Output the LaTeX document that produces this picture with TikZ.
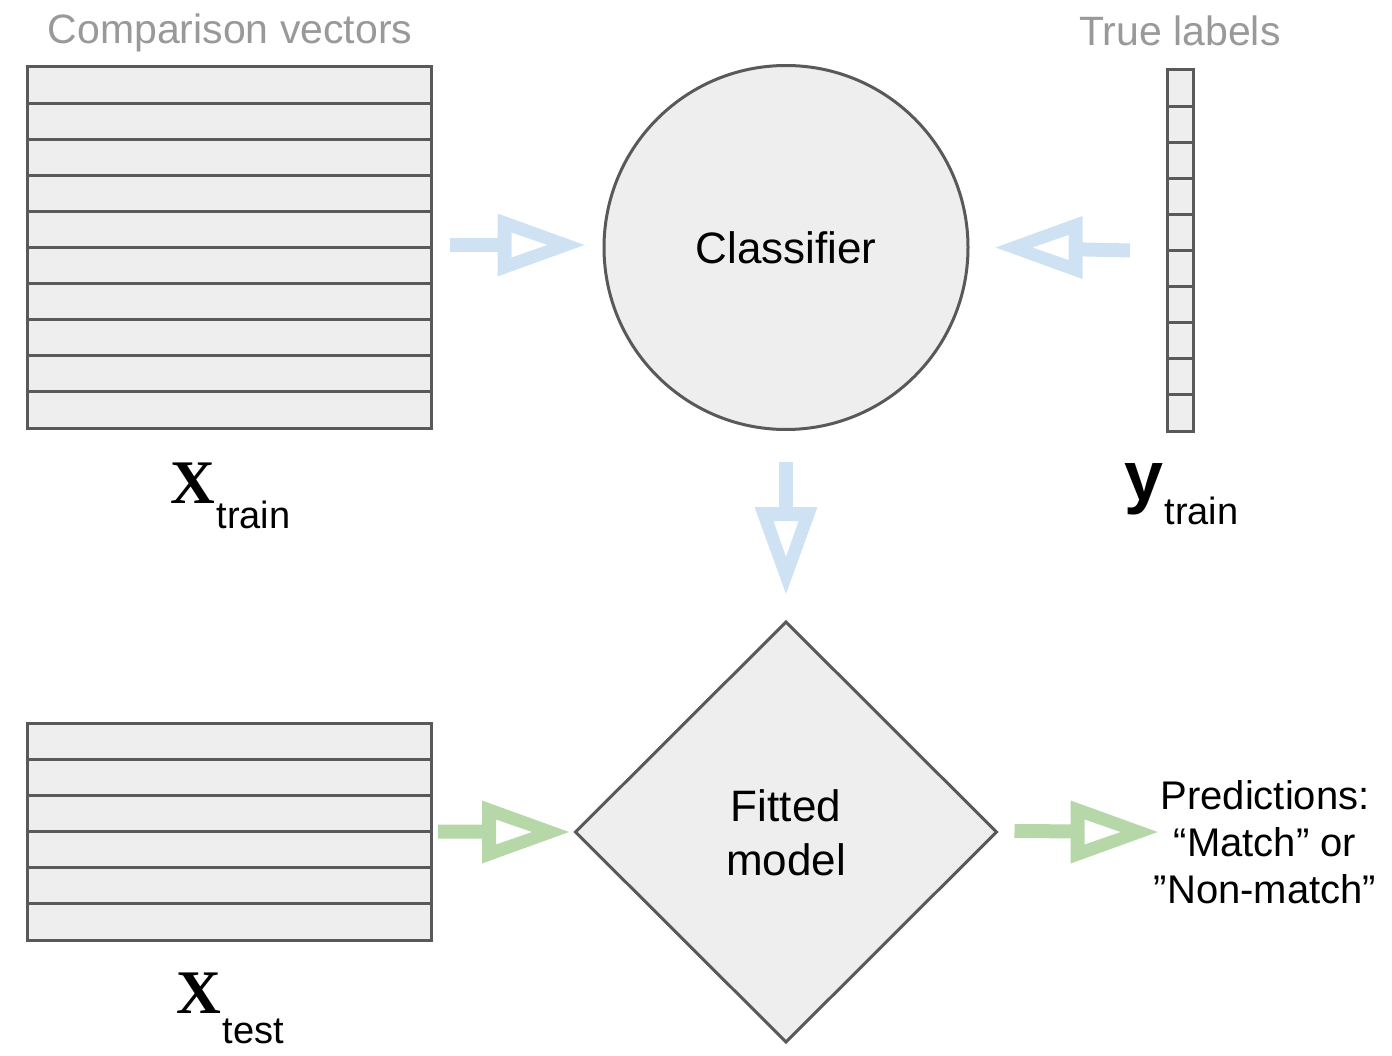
\documentclass[tikz,border=0pt]{standalone}
\usepackage{fontspec}
\setmainfont{Liberation Sans}
\newfontfamily\xserif{Liberation Serif}
\usetikzlibrary{calc,shapes.geometric}
\definecolor{boxfill}{HTML}{EEEEEE}
\definecolor{boxline}{HTML}{595959}
\definecolor{arrblue}{HTML}{CFE2F3}
\definecolor{arrgreen}{HTML}{B6D7A8}
\definecolor{ttlgray}{HTML}{999999}
\newcommand\fatarrow[4]{% colour, start, tip, direction angle
  \draw[#1, line width=14pt, shorten >=86pt] (#2) -- (#3);
  \begin{scope}[shift={(#3)}, rotate=#4]
    \fill[#1, even odd rule] (0pt,0pt) -- (-87pt,31.5pt) -- (-87pt,-31.5pt) -- cycle
      (-37pt,0pt) -- (-73pt,12.5pt) -- (-73pt,-12.5pt) -- cycle;
  \end{scope}}
\begin{document}
\begin{tikzpicture}[x=1pt,y=-1pt,
  tbl/.style={draw=boxline, fill=boxfill, line width=3pt, rectangle, inner sep=0pt, outer sep=0pt},
  rowline/.style={draw=boxline, line width=3pt},
  shapebox/.style={draw=boxline, fill=boxfill, line width=3pt, inner sep=0pt, outer sep=0pt},
  bigtext/.style={font=\fontsize{44}{54}\selectfont, align=center, inner sep=0pt},
  ttl/.style={font=\fontsize{41}{48}\selectfont, text=ttlgray, inner sep=0pt, anchor=base},
  lbl/.style={inner sep=0pt, anchor=base west},
]
\useasboundingbox (0,0) rectangle (1392,1056);

% titles
\node[ttl] (ttlcv) at (230,44) {Comparison vectors};
\node[ttl] (ttltl) at (1180,46) {True labels};

% X train table
\node[tbl, minimum width=404pt, minimum height=361pt] (xtrain) at (229,247.5) {};
\foreach \i in {1,...,9}
  \draw[rowline] ($(xtrain.north west)+(0,\i*36.1)$) -- ($(xtrain.north east)+(0,\i*36.1)$);

% X test table
\node[tbl, minimum width=404pt, minimum height=217pt] (xtest) at (229,831.5) {};
\foreach \i in {1,...,5}
  \draw[rowline] ($(xtest.north west)+(0,\i*36.17)$) -- ($(xtest.north east)+(0,\i*36.17)$);

% y vector
\node[tbl, minimum width=26pt, minimum height=361pt] (yvec) at (1180,250.5) {};
\foreach \i in {1,...,9}
  \draw[rowline] ($(yvec.north west)+(0,\i*36.1)$) -- ($(yvec.north east)+(0,\i*36.1)$);

% classifier
\node[shapebox, circle, minimum size=364pt] (clf) at (786,247.5) {};
\node[bigtext] (clftext) at (786,248) {Classifier};

% fitted model
\node[shapebox, diamond, minimum width=421pt, minimum height=420pt] (fit) at (786,832) {};
\node[bigtext] (fittext) at (786,833) {Fitted\\model};

% predictions
\node[font=\fontsize{40}{47}\selectfont, align=center, inner sep=0pt] (pred) at (1265,842)
  {Predictions:\\“Match” or\\”Non-match”};

% labels
\node[lbl] (lxtrain) at (170,503)
  {{\xserif\bfseries\fontsize{62}{62}\selectfont X}\hspace{1.5pt}\raisebox{-25pt}{\fontsize{38}{38}\selectfont train}};
\node[lbl] (lxtest) at (176,1013)
  {{\xserif\bfseries\fontsize{62}{62}\selectfont X}\hspace{1.5pt}\raisebox{-30pt}{\fontsize{38}{38}\selectfont test}};
\node[lbl] (lytrain) at (1124,500)
  {{\bfseries\fontsize{70}{70}\selectfont y}\hspace{1.5pt}\raisebox{-24pt}{\fontsize{38}{38}\selectfont train}};

% connectors
\coordinate (a1s) at ($(xtrain.east)+(19,-2.5)$);
\coordinate (a1t) at ($(clf.west)+(-19.5,-2.5)$);
\fatarrow{arrblue}{a1s}{a1t}{0}
\coordinate (a2s) at ($(yvec.west)+(-37,0)$);
\coordinate (a2t) at ($(clf.east)+(27.5,0)$);
\fatarrow{arrblue}{a2s}{a2t}{180}
\coordinate (a3s) at ($(clf.south)+(0,32)$);
\coordinate (a3t) at ($(fit.north)+(0,-28)$);
\fatarrow{arrblue}{a3s}{a3t}{-90}
\coordinate (a4s) at ($(xtest.east)+(7,0)$);
\coordinate (a4t) at ($(fit.west)+(-6.5,0)$);
\fatarrow{arrgreen}{a4s}{a4t}{0}
\coordinate (a5s) at ($(fit.east)+(18,-1)$);
\coordinate (a5t) at ($(pred.west |- fit.east)+(4,0)$);
\fatarrow{arrgreen}{a5s}{a5t}{0}
\end{tikzpicture}
\end{document}
